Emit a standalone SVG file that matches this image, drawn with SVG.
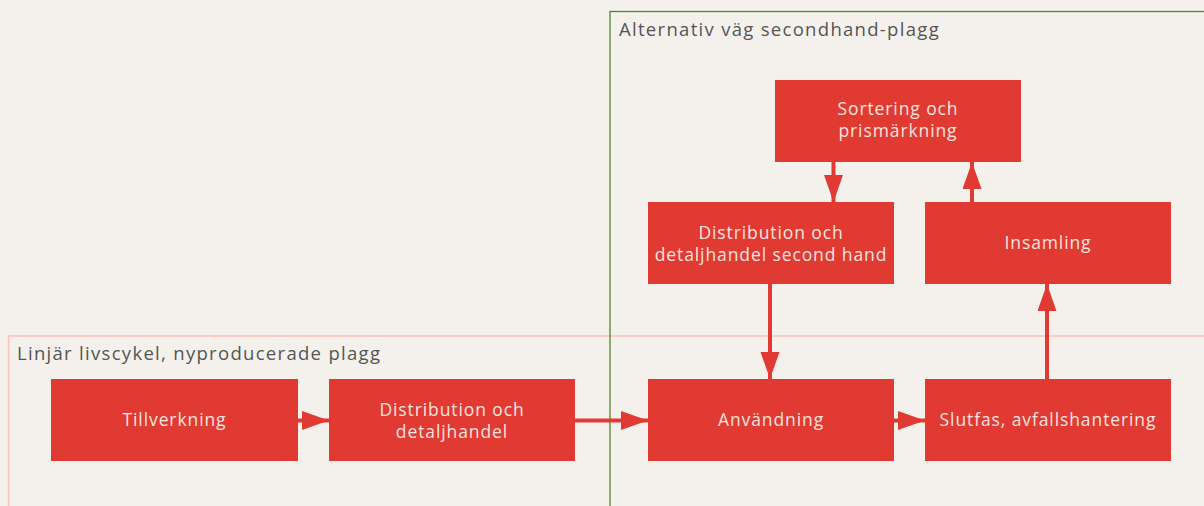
<svg xmlns="http://www.w3.org/2000/svg" width="1204" height="506" viewBox="0 0 1204 506">
<defs>
<style>
.bg{fill:#f4f1ec}
.node rect{fill:#e03a33}
.node text{fill:#f6e4df;font-family:"Open Sans","Noto Sans",sans-serif;font-size:17.5px;letter-spacing:0.9px;text-anchor:middle}
.title{fill:#555555;font-family:"Open Sans","Noto Sans",sans-serif;font-size:18.5px;letter-spacing:1.3px}
.conn line{stroke:#e03a33;stroke-width:4;fill:none}
</style>
<marker id="ah" markerUnits="userSpaceOnUse" markerWidth="28" markerHeight="20" refX="27" refY="9.5" orient="auto">
<path d="M0,0 L27,9.5 L0,19 z" fill="#e03a33"/>
</marker>
</defs>
<rect class="bg" x="0" y="0" width="1204" height="506"/>
<g id="group-linear">
<rect x="8.5" y="336" width="1210" height="200" fill="none" stroke="#f7c3bc" stroke-width="1.5"/>
<text class="title" x="17" y="360">Linjär livscykel, nyproducerade plagg</text>
</g>
<g id="group-alt">
<rect x="610" y="11.5" width="620" height="520" fill="none" stroke="#4d8a1f" stroke-width="1.3"/>
<text class="title" x="619" y="36">Alternativ väg secondhand-plagg</text>
</g>
<g id="connectors" class="conn">
<line x1="298" y1="420.5" x2="329" y2="420.5" marker-end="url(#ah)"/>
<line x1="575" y1="420.5" x2="648" y2="420.5" marker-end="url(#ah)"/>
<line x1="894" y1="420.5" x2="925" y2="420.5" marker-end="url(#ah)"/>
<line x1="833.5" y1="162" x2="833.5" y2="202" marker-end="url(#ah)"/>
<line x1="770" y1="284" x2="770" y2="379" marker-end="url(#ah)"/>
<line x1="972" y1="202" x2="972" y2="162" marker-end="url(#ah)"/>
<line x1="1047" y1="379" x2="1047" y2="284" marker-end="url(#ah)"/>
</g>
<g id="n-tillverkning" class="node">
<rect x="51" y="379" width="247" height="82"/>
<text x="174.5" y="426">Tillverkning</text>
</g>
<g id="n-distribution" class="node">
<rect x="329" y="379" width="246" height="82"/>
<text x="452" y="416">Distribution och</text>
<text x="452" y="438">detaljhandel</text>
</g>
<g id="n-anvandning" class="node">
<rect x="648" y="379" width="246" height="82"/>
<text x="771" y="426">Användning</text>
</g>
<g id="n-slutfas" class="node">
<rect x="925" y="379" width="246" height="82"/>
<text x="1048" y="426">Slutfas, avfallshantering</text>
</g>
<g id="n-dist-sh" class="node">
<rect x="648" y="202" width="246" height="82"/>
<text x="771" y="239">Distribution och</text>
<text x="771" y="261">detaljhandel second hand</text>
</g>
<g id="n-insamling" class="node">
<rect x="925" y="202" width="246" height="82"/>
<text x="1048" y="249">Insamling</text>
</g>
<g id="n-sortering" class="node">
<rect x="775" y="80" width="246" height="82"/>
<text x="898" y="115">Sortering och</text>
<text x="898" y="137">prismärkning</text>
</g>
</svg>
